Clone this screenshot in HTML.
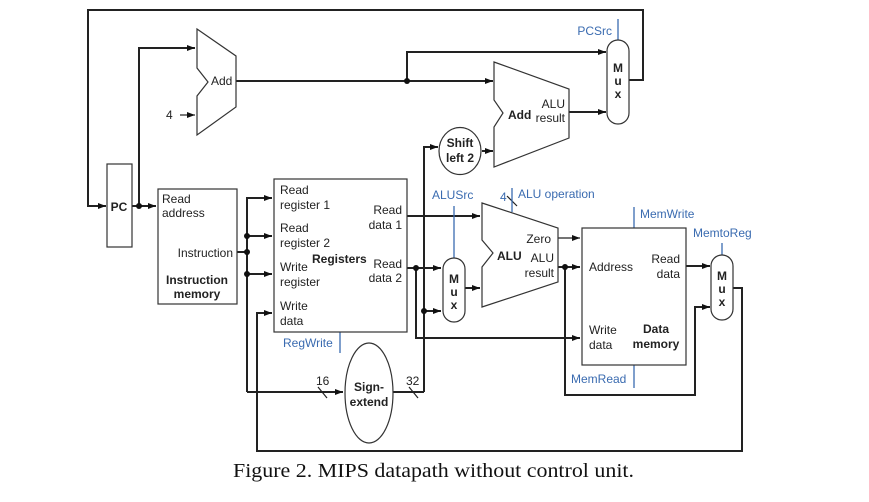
<!DOCTYPE html>
<html><head><meta charset="utf-8"><style>
html,body{margin:0;padding:0;background:#fff;}
svg{display:block;}
text{font-family:"Liberation Sans",sans-serif;font-size:12px;fill:#222;}
.b{font-weight:bold;}
.bl{fill:#3a6bb0;}
.cap{font-family:"Liberation Serif",serif;font-size:20px;fill:#111;}
</style></head><body>
<svg width="869" height="502" viewBox="0 0 869 502" xmlns="http://www.w3.org/2000/svg">
<defs><marker id="a" markerWidth="8" markerHeight="6" refX="8" refY="3" orient="auto" markerUnits="userSpaceOnUse"><path d="M0,0 L8,3 L0,6 z" fill="#111"/></marker></defs>
<g fill="none" stroke="#222" stroke-width="2">
<polyline points="629,80 643,80 643,10 88,10 88,206 106,206" marker-end="url(#a)"/>
<line x1="132" y1="206" x2="156" y2="206" marker-end="url(#a)"/>
<polyline points="139,206 139,48 195,48" marker-end="url(#a)"/>
<line x1="180" y1="115" x2="195" y2="115" stroke-width="1.2" marker-end="url(#a)"/>
<line x1="236" y1="81" x2="493" y2="81" marker-end="url(#a)"/>
<polyline points="407,81 407,52 606,52" marker-end="url(#a)"/>
<line x1="569" y1="112" x2="606" y2="112" marker-end="url(#a)"/>
<line x1="482" y1="151" x2="493" y2="151" marker-end="url(#a)"/>
<polyline points="424,392 424,147 438,147" marker-end="url(#a)"/>
<line x1="237" y1="252" x2="247" y2="252"/>
<polyline points="247,392 247,198 272,198" marker-end="url(#a)"/>
<line x1="247" y1="236" x2="272" y2="236" marker-end="url(#a)"/>
<line x1="247" y1="274" x2="272" y2="274" marker-end="url(#a)"/>
<line x1="247" y1="392" x2="343" y2="392" marker-end="url(#a)"/>
<line x1="393" y1="392" x2="424" y2="392"/>
<polyline points="733,288 742,288 742,451 257,451 257,313 272,313" marker-end="url(#a)"/>
<line x1="407" y1="216" x2="480" y2="216" marker-end="url(#a)"/>
<line x1="407" y1="268" x2="441" y2="268" marker-end="url(#a)"/>
<polyline points="416,268 416,338 580,338" marker-end="url(#a)"/>
<line x1="424" y1="311" x2="441" y2="311" marker-end="url(#a)"/>
<line x1="465" y1="288" x2="480" y2="288" marker-end="url(#a)"/>
<line x1="558" y1="267" x2="580" y2="267" marker-end="url(#a)"/>
<polyline points="565,267 565,395 695,395 695,307 710,307" marker-end="url(#a)"/>
<line x1="686" y1="266" x2="710" y2="266" marker-end="url(#a)"/>
</g>
<line x1="558" y1="238" x2="580" y2="238" stroke="#222" stroke-width="1.2" marker-end="url(#a)"/>
<g stroke="#222" stroke-width="1.2">
<line x1="318" y1="387" x2="327" y2="398"/><line x1="409" y1="387" x2="418" y2="398"/>
<line x1="507" y1="196" x2="517" y2="206"/>
</g>
<g fill="#111">
<circle cx="139" cy="206" r="3"/><circle cx="407" cy="81" r="3"/>
<circle cx="247" cy="236" r="3"/><circle cx="247" cy="252" r="3"/><circle cx="247" cy="274" r="3"/>
<circle cx="416" cy="268" r="3"/><circle cx="424" cy="311" r="3"/><circle cx="565" cy="267" r="3"/>
</g>
<g stroke="#3a6bb0" stroke-width="1.3">
<line x1="618" y1="19" x2="618" y2="40"/><line x1="454" y1="206" x2="454" y2="258"/>
<line x1="512" y1="188" x2="512" y2="212"/><line x1="634" y1="207" x2="634" y2="228"/>
<line x1="634" y1="365" x2="634" y2="388"/><line x1="722" y1="243" x2="722" y2="255"/>
<line x1="340" y1="332" x2="340" y2="353"/>
</g>
<g fill="#fff" stroke="#333" stroke-width="1.2">
<rect x="107" y="164" width="25" height="83"/>
<rect x="158" y="189" width="79" height="115"/>
<rect x="274" y="179" width="133" height="153"/>
<rect x="582" y="228" width="104" height="137"/>
<polygon points="197,29 236,56 236,107 197,135 197,96 208,82 197,68"/>
<polygon points="494,62 569,89 569,138 494,167 494,127 503,113 494,100"/>
<polygon points="482,203 558,228 558,282 482,307 482,267 493,253 482,240"/>
<rect x="607" y="40" width="22" height="84" rx="11"/>
<rect x="443" y="258" width="22" height="64" rx="11"/>
<rect x="711" y="255" width="22" height="65" rx="11"/>
<ellipse cx="460" cy="151" rx="21" ry="23.5"/>
<ellipse cx="369" cy="393" rx="24" ry="50"/>
</g>
<text x="119" y="211" class="b" text-anchor="middle">PC</text>
<text x="211" y="85">Add</text>
<text x="166" y="119">4</text>
<text x="508" y="119" class="b">Add</text>
<text x="565" y="108" text-anchor="end">ALU</text>
<text x="565" y="122" text-anchor="end">result</text>
<text x="460" y="147" class="b" text-anchor="middle">Shift</text>
<text x="460" y="162" class="b" text-anchor="middle">left 2</text>
<g class="b" text-anchor="middle">
<text x="618" y="72">M</text><text x="618" y="85">u</text><text x="618" y="98">x</text>
<text x="454" y="283">M</text><text x="454" y="296">u</text><text x="454" y="309">x</text>
<text x="722" y="280">M</text><text x="722" y="293">u</text><text x="722" y="306">x</text>
</g>
<text x="162" y="203">Read</text><text x="162" y="217">address</text>
<text x="233" y="257" text-anchor="end">Instruction</text>
<text x="197" y="284" class="b" text-anchor="middle">Instruction</text>
<text x="197" y="298" class="b" text-anchor="middle">memory</text>
<text x="280" y="194">Read</text><text x="280" y="209">register 1</text>
<text x="280" y="232">Read</text><text x="280" y="247">register 2</text>
<text x="280" y="271">Write</text><text x="280" y="286">register</text>
<text x="280" y="310">Write</text><text x="280" y="325">data</text>
<text x="312" y="263" class="b">Registers</text>
<text x="402" y="214" text-anchor="end">Read</text><text x="402" y="229" text-anchor="end">data 1</text>
<text x="402" y="268" text-anchor="end">Read</text><text x="402" y="282" text-anchor="end">data 2</text>
<text x="283" y="347" class="bl">RegWrite</text>
<text x="369" y="391" class="b" text-anchor="middle">Sign-</text>
<text x="369" y="406" class="b" text-anchor="middle">extend</text>
<text x="316" y="385">16</text><text x="406" y="385">32</text>
<text x="612" y="35" class="bl" text-anchor="end">PCSrc</text>
<text x="432" y="199" class="bl">ALUSrc</text>
<text x="500" y="201" class="bl">4</text>
<text x="518" y="198" class="bl">ALU operation</text>
<text x="497" y="260" class="b">ALU</text>
<text x="551" y="243" text-anchor="end">Zero</text>
<text x="554" y="262" text-anchor="end">ALU</text>
<text x="554" y="277" text-anchor="end">result</text>
<text x="640" y="218" class="bl">MemWrite</text>
<text x="693" y="237" class="bl">MemtoReg</text>
<text x="589" y="271">Address</text>
<text x="680" y="263" text-anchor="end">Read</text><text x="680" y="278" text-anchor="end">data</text>
<text x="589" y="334">Write</text><text x="589" y="349">data</text>
<text x="656" y="333" class="b" text-anchor="middle">Data</text>
<text x="656" y="348" class="b" text-anchor="middle">memory</text>
<text x="571" y="383" class="bl">MemRead</text>
<text x="233" y="477" class="cap" textLength="401" lengthAdjust="spacingAndGlyphs">Figure 2. MIPS datapath without control unit.</text>
</svg>
</body></html>
